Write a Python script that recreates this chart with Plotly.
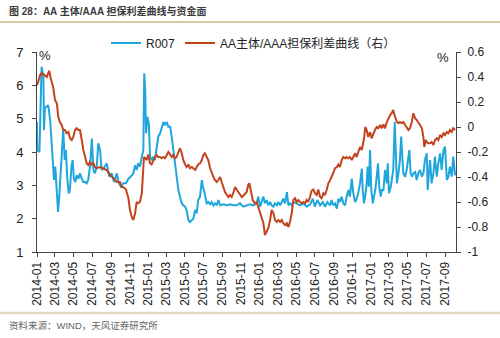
import pandas as pd
import plotly.graph_objects as go

# ---- data (days since 2014-01-01, values) ----
start = pd.Timestamp("2014-01-01")

r007_days = [0, 1, 8, 15, 21, 23, 26, 32, 37, 43, 48, 53, 56, 60, 65, 69, 73, 78, 82, 86,
             91, 95, 99, 104, 108, 113, 117, 121, 126, 130, 136, 141, 147, 152, 158, 163, 168, 174, 180, 185,
             190, 196, 201, 207, 212, 218, 229, 237, 245, 253, 262, 267, 275, 283, 292, 300, 308, 316, 322, 327,
             332, 338, 344, 349, 352, 355, 358, 362, 367, 371, 376, 382, 387, 393, 398, 404, 409, 415, 420, 426,
             431, 437, 442, 447, 453, 458, 464, 469, 475, 480, 486, 491, 497, 502, 508, 513, 519, 524, 529, 535,
             541, 544, 548, 552, 557, 562, 568, 573, 579, 584, 590, 595, 601, 611, 623, 633, 644, 655, 666, 677,
             688, 699, 710, 721, 726, 732, 737, 743, 748, 754, 759, 765, 770, 776, 781, 787, 792, 798, 803, 808,
             814, 820, 825, 830, 836, 841, 852, 863, 874, 885, 896, 905, 912, 920, 929, 938, 945, 953, 962, 967,
             972, 978, 984, 989, 994, 1000, 1005, 1011, 1016, 1022, 1027, 1033, 1038, 1044, 1049, 1054, 1060, 1066, 1069, 1073,
             1077, 1082, 1085, 1089, 1093, 1097, 1102, 1106, 1110, 1115, 1119, 1123, 1128, 1132, 1137, 1142, 1148, 1151, 1155, 1161,
             1165, 1169, 1174, 1177, 1181, 1186, 1191, 1195, 1198, 1202, 1208, 1213, 1219, 1222, 1226, 1231, 1235, 1241, 1246, 1251,
             1257, 1263, 1268, 1273, 1279, 1282, 1287, 1290, 1295, 1301, 1306, 1312, 1317, 1323, 1328, 1334, 1339, 1345, 1350, 1355,
             1361, 1366, 1372]
r007_vals = [4.9, 4.06, 4.0, 6.56, 6.26, 4.66, 5.32, 5.36, 5.4, 4.96, 4.26, 3.36, 3.16, 3.56, 2.86, 2.2, 2.66, 3.46, 3.76, 4.66,
             3.76, 4.06, 3.26, 2.76, 2.86, 3.56, 3.76, 3.2, 3.1, 3.3, 3.2, 3.36, 3.2, 3.1, 3.1, 3.06, 3.16, 3.56, 4.4, 3.46,
             3.36, 3.56, 4.26, 4.06, 3.46, 3.5, 3.66, 3.26, 3.36, 3.1, 3.36, 3.1, 2.96, 3.06, 3.06, 3.2, 3.26, 3.36, 3.6, 3.46,
             3.66, 3.56, 3.86, 4.06, 6.36, 5.86, 4.56, 5.06, 4.86, 3.86, 3.76, 3.86, 3.76, 4.16, 4.46, 4.56, 4.7, 4.9, 4.8, 4.9,
             4.76, 4.76, 4.46, 4.06, 3.66, 3.26, 2.86, 2.66, 2.46, 2.4, 2.36, 2.26, 1.96, 1.9, 1.96, 2.0, 2.26, 2.16, 2.56, 2.66,
             3.16, 2.96, 2.86, 2.66, 2.46, 2.5, 2.43, 2.5, 2.4, 2.46, 2.4, 2.56, 2.4, 2.43, 2.4, 2.43, 2.4, 2.4, 2.46, 2.36,
             2.4, 2.43, 2.4, 2.46, 2.66, 2.36, 2.5, 2.66, 2.46, 2.56, 2.4, 2.5, 2.4, 2.36, 2.46, 2.4, 2.5, 2.4, 2.5, 2.6,
             2.46, 2.8, 2.4, 2.46, 2.4, 2.5, 2.46, 2.4, 2.46, 2.36, 2.42, 2.6, 2.36, 2.56, 2.4, 2.5, 2.36, 2.5, 2.4, 2.56,
             2.4, 2.46, 2.3, 2.6, 2.5, 2.66, 2.46, 2.4, 2.66, 2.86, 2.66, 3.2, 2.76, 2.5, 2.6, 2.76, 3.06, 3.5, 2.86, 2.46,
             2.66, 3.06, 3.56, 2.96, 4.06, 2.86, 2.46, 2.66, 2.86, 3.26, 3.66, 2.96, 2.66, 2.86, 2.86, 3.46, 3.06, 3.66, 2.76, 2.96,
             3.26, 3.46, 4.9, 4.06, 3.06, 3.36, 3.76, 4.46, 3.86, 3.36, 3.26, 3.46, 3.86, 4.06, 3.36, 3.26, 3.36, 3.4, 3.16, 3.36,
             3.46, 3.26, 3.36, 3.76, 3.96, 2.86, 3.46, 3.76, 3.06, 3.36, 3.86, 3.26, 3.66, 3.96, 3.46, 4.06, 4.16, 3.16, 3.26, 3.56,
             3.26, 3.86, 3.3]

spread_days = [0, 4, 10, 15, 21, 26, 32, 37, 40, 45, 49, 53, 59, 65, 70, 75, 81, 86, 92, 97,
               103, 108, 114, 119, 125, 130, 136, 141, 147, 152, 158, 163, 168, 174, 180, 185, 190, 196, 207, 218,
               229, 240, 250, 262, 272, 278, 283, 292, 300, 305, 311, 316, 322, 327, 332, 338, 344, 347, 351, 355,
               360, 365, 371, 376, 382, 387, 393, 398, 404, 409, 415, 420, 426, 431, 437, 442, 447, 453, 458, 464,
               469, 475, 480, 486, 491, 497, 502, 508, 513, 519, 524, 529, 535, 541, 546, 551, 557, 562, 568, 573,
               579, 584, 590, 595, 601, 606, 611, 617, 623, 628, 633, 639, 644, 650, 655, 661, 666, 672, 677, 683,
               688, 693, 697, 701, 708, 715, 721, 726, 732, 737, 743, 748, 754, 759, 765, 770, 776, 781, 787, 792,
               798, 803, 808, 814, 820, 825, 830, 836, 841, 847, 852, 858, 863, 869, 874, 880, 885, 890, 896, 901,
               907, 912, 918, 923, 929, 934, 940, 945, 951, 956, 962, 967, 972, 978, 984, 989, 994, 1000, 1005, 1011,
               1016, 1022, 1027, 1033, 1038, 1044, 1049, 1054, 1060, 1066, 1071, 1074, 1077, 1082, 1087, 1093, 1098, 1104, 1109, 1115,
               1120, 1126, 1131, 1137, 1142, 1148, 1153, 1159, 1164, 1169, 1173, 1177, 1181, 1186, 1191, 1197, 1202, 1208, 1213, 1219,
               1224, 1230, 1235, 1241, 1246, 1251, 1257, 1263, 1268, 1271, 1276, 1279, 1284, 1290, 1295, 1301, 1306, 1312, 1317, 1323,
               1328, 1334, 1339, 1345, 1350, 1355, 1361, 1366, 1372]
spread_vals = [0.336, 0.36, 0.416, 0.43, 0.424, 0.416, 0.40, 0.43, 0.45, 0.39, 0.35, 0.32, 0.216, 0.19, 0.08, 0.04, 0.016, -0.024, -0.024, -0.05,
               -0.04, -0.09, -0.104, -0.08, -0.024, -0.01, -0.024, -0.024, -0.104, -0.184, -0.24, -0.29, -0.304, -0.28, -0.30, -0.29, -0.32, -0.33, -0.32, -0.33,
               -0.344, -0.384, -0.41, -0.44, -0.44, -0.48, -0.48, -0.50, -0.57, -0.664, -0.72, -0.744, -0.69, -0.60, -0.61, -0.60, -0.53, -0.40, -0.24, -0.25,
               -0.264, -0.22, -0.29, -0.30, -0.264, -0.24, -0.224, -0.24, -0.24, -0.25, -0.24, -0.25, -0.224, -0.20, -0.22, -0.24, -0.224, -0.25, -0.24, -0.20,
               -0.17, -0.21, -0.264, -0.30, -0.32, -0.30, -0.33, -0.32, -0.33, -0.344, -0.32, -0.30, -0.29, -0.264, -0.224, -0.21, -0.24, -0.264, -0.33, -0.37,
               -0.40, -0.424, -0.44, -0.424, -0.40, -0.44, -0.48, -0.52, -0.544, -0.56, -0.544, -0.56, -0.53, -0.48, -0.50, -0.52, -0.53, -0.56, -0.55, -0.53,
               -0.52, -0.464, -0.45, -0.50, -0.584, -0.61, -0.60, -0.64, -0.69, -0.73, -0.77, -0.864, -0.84, -0.81, -0.744, -0.664, -0.69, -0.744, -0.76, -0.744,
               -0.76, -0.744, -0.77, -0.784, -0.77, -0.80, -0.76, -0.69, -0.584, -0.57, -0.60, -0.584, -0.60, -0.61, -0.60, -0.61, -0.584, -0.60, -0.56, -0.51,
               -0.50, -0.53, -0.544, -0.50, -0.56, -0.57, -0.53, -0.544, -0.50, -0.45, -0.424, -0.40, -0.37, -0.33, -0.32, -0.30, -0.32, -0.264, -0.24, -0.25,
               -0.24, -0.25, -0.24, -0.264, -0.24, -0.21, -0.24, -0.20, -0.16, -0.184, -0.13, -0.08, 0.0, -0.024, -0.08, -0.04, -0.09, -0.05, -0.024, 0.0,
               -0.01, 0.016, -0.01, 0.02, -0.01, 0.04, 0.07, 0.096, 0.11, 0.136, 0.096, 0.056, 0.04, 0.03, 0.04, 0.03, 0.04, 0.016, 0.0, -0.024,
               -0.01, 0.04, 0.11, 0.07, 0.056, 0.04, 0.016, -0.01, -0.08, -0.16, -0.104, -0.12, -0.13, -0.13, -0.12, -0.144, -0.104, -0.09, -0.104, -0.064,
               -0.08, -0.05, -0.064, -0.04, -0.05, -0.024, -0.04, -0.01, -0.024]

xtick_vals = ["2014-01-01", "2014-03-01", "2014-05-01", "2014-07-01", "2014-09-01", "2014-11-01",
              "2015-01-01", "2015-03-01", "2015-05-01", "2015-07-01", "2015-09-01", "2015-11-01",
              "2016-01-01", "2016-03-01", "2016-05-01", "2016-07-01", "2016-09-01", "2016-11-01",
              "2017-01-01", "2017-03-01", "2017-05-01", "2017-07-01", "2017-09-01"]
xtick_text = [v[:7] for v in xtick_vals]
left_ticks = [1, 2, 3, 4, 5, 6, 7]
right_ticks = [-1, -0.8, -0.6, -0.4, -0.2, 0, 0.2, 0.4, 0.6]
right_text = ["-1", "-0.8", "-0.6", "-0.4", "-0.2", "0", "0.2", "0.4", "0.6"]

r007_dates = start + pd.to_timedelta(r007_days, unit="D")
spread_dates = start + pd.to_timedelta(spread_days, unit="D")

FONT = "Liberation Sans, Arial, Noto Sans CJK SC, sans-serif"
BLUE = "#1fa6dc"
ORANGE = "#c2441c"

fig = go.Figure()
fig.add_trace(go.Scatter(x=r007_dates, y=r007_vals, mode="lines", name="R007",
                         line=dict(color=BLUE, width=2)))
fig.add_trace(go.Scatter(x=spread_dates, y=spread_vals, mode="lines", name="AA主体/AAA担保利差曲线（右）",
                         line=dict(color=ORANGE, width=2), yaxis="y2"))

L, R, T, B = 37, 456, 52, 252
W, H = 500, 338
pw, ph = R - L, B - T

def px(x):
    return (x - L) / pw

def py(y):
    return (B - y) / ph

fig.update_layout(
    width=W, height=H,
    margin=dict(l=L, r=W - R, t=T, b=H - B, pad=0),
    paper_bgcolor="white", plot_bgcolor="white",
    font=dict(family=FONT, size=12, color="#222"),
    showlegend=True,
    legend=dict(orientation="h", x=px(106), xanchor="left", y=py(43), yanchor="middle",
                font=dict(size=12, color="#222"), bgcolor="rgba(0,0,0,0)",
                itemwidth=30, tracegroupgap=0),
    xaxis=dict(type="date", range=["2014-01-01", "2017-10-07"],
               tickvals=xtick_vals, ticktext=xtick_text, tickangle=-90,
               ticks="outside", ticklen=4, tickcolor="#444", tickfont=dict(size=12, color="#222"),
               showline=True, linecolor="#444", linewidth=1, showgrid=False, zeroline=False),
    yaxis=dict(range=[1, 7], tickvals=left_ticks, ticks="outside", ticklen=4, tickcolor="#444",
               tickfont=dict(size=13, color="#222"), ticklabelstandoff=6,
               showline=True, linecolor="#444", linewidth=1, showgrid=False, zeroline=False),
    yaxis2=dict(range=[-1, 0.6], overlaying="y", side="right", tickvals=right_ticks, ticktext=right_text,
                ticks="outside", ticklen=4, tickcolor="#444", tickfont=dict(size=12, color="#222"),
                ticklabelstandoff=4,
                showline=True, linecolor="#444", linewidth=1, showgrid=False, zeroline=False),
)

ann = [
    dict(text="<b>图 28：AA 主体/AAA 担保利差曲线与资金面</b>", x=px(7), y=py(11), xanchor="left", yanchor="middle",
         font=dict(size=10, color="#3a3a3a")),
    dict(text="资料来源：WIND，天风证券研究所", x=px(7), y=py(325), xanchor="left", yanchor="middle",
         font=dict(size=9.5, color="#666")),
    dict(text="%", x=px(45), y=py(55), xanchor="center", yanchor="middle", font=dict(size=13, color="#222")),
    dict(text="%", x=px(443), y=py(57), xanchor="center", yanchor="middle", font=dict(size=13, color="#222")),
]
for a in ann:
    a.update(xref="paper", yref="paper", showarrow=False)
fig.update_layout(annotations=ann)

fig.add_shape(type="line", xref="paper", yref="paper", x0=px(0), x1=px(500), y0=py(22), y1=py(22),
              line=dict(color="#c9b78c", width=1.5))
fig.add_shape(type="line", xref="paper", yref="paper", x0=px(0), x1=px(500), y0=py(313), y1=py(313),
              line=dict(color="#e6dac4", width=2.5))

fig.write_html("out.html")
